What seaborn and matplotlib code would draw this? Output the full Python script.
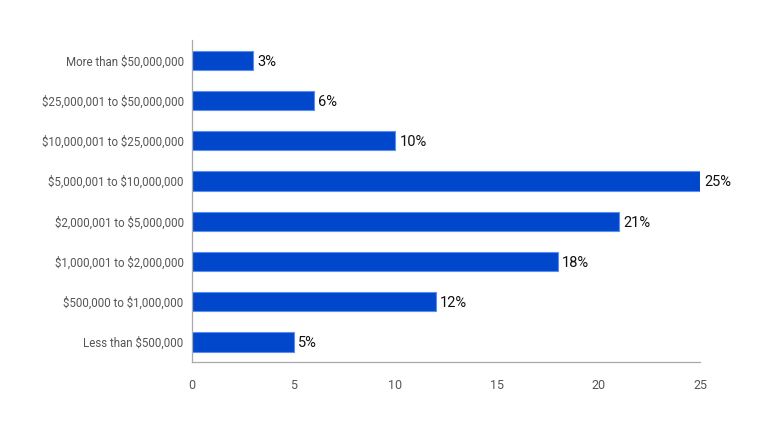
import matplotlib
matplotlib.use("Agg")
import matplotlib.pyplot as plt
import seaborn as sns
import pandas as pd

categories = [
    "More than $50,000,000",
    "$25,000,001 to $50,000,000",
    "$10,000,001 to $25,000,000",
    "$5,000,001 to $10,000,000",
    "$2,000,001 to $5,000,000",
    "$1,000,001 to $2,000,000",
    "$500,000 to $1,000,000",
    "Less than $500,000",
]
values = [3, 6, 10, 25, 21, 18, 12, 5]
xticks = [0, 5, 10, 15, 20, 25]

sns.set_theme(style="white")
plt.rcParams['font.family'] = ['Roboto', 'DejaVu Sans']
plt.rcParams['text.parse_math'] = False

df = pd.DataFrame({"category": categories, "value": values})

fig = plt.figure(figsize=(7.68, 4.26), dpi=100)
ax = fig.add_axes([0.25, 0.150, 0.6615, 0.756])
sns.barplot(data=df, y="category", x="value", order=categories, color="#0047CC",
            width=0.48, edgecolor="#5b8ef0", linewidth=0.8, saturation=1, ax=ax)

for cont in ax.containers:
    texts = ax.bar_label(cont, labels=[f"{v}%" for v in values], padding=3,
                         fontsize=10.5, color="#111111")
    for t in texts:
        t.set_va("center_baseline")

ax.set_xlim(0, 25)
ax.set_ylim(7.5, -0.5)
ax.set_xticks(xticks)
ax.set_xticklabels([str(t) for t in xticks])
ax.set_xlabel("")
ax.set_ylabel("")
for s in ["top", "right"]:
    ax.spines[s].set_visible(False)
for s in ["left", "bottom"]:
    ax.spines[s].set_color("#aaaaaa")
    ax.spines[s].set_linewidth(0.9)
ax.tick_params(axis="x", direction="in", length=8, width=0.9, color="#aaaaaa",
               labelsize=9, labelcolor="#555555", pad=12)
ax.tick_params(axis="y", length=0, labelsize=8.3, labelcolor="#555555", pad=6)

fig.savefig("out.png", dpi=100)
